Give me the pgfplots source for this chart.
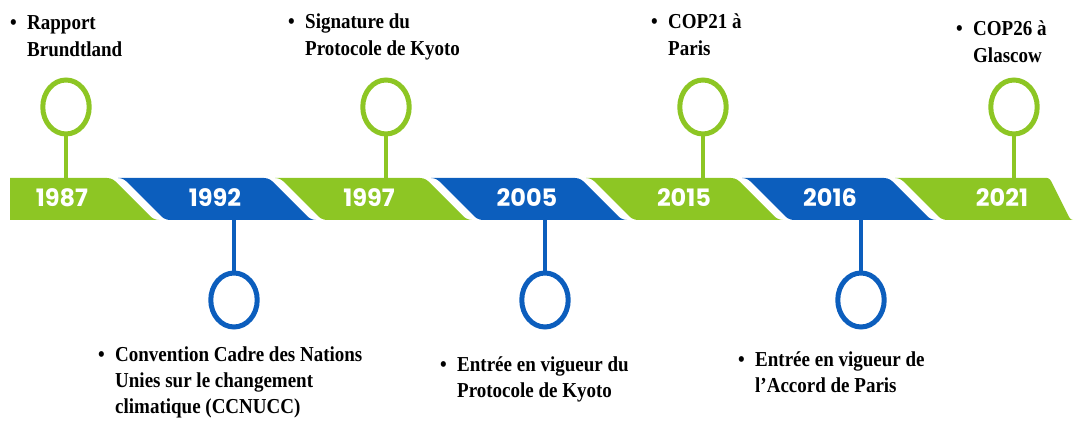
\documentclass[border=0pt]{standalone}
\usepackage{pgfplots}
\pgfplotsset{compat=1.18}
\usepackage{fontspec}
\setmainfont{Liberation Serif}
\newfontfamily\yearfont{Poppins}
\definecolor{grn}{RGB}{141,198,36}
\definecolor{blu}{RGB}{12,94,189}
\begin{document}
\begin{tikzpicture}
\begin{axis}[width=1080pt,height=423pt,scale only axis,
  xmin=0,xmax=1080,ymin=0,ymax=423,hide axis,clip=false]
\path (axis cs:0,0) rectangle (axis cs:1080,423);
% band segments (pixel x, y = 423 - pixel y)
\addplot[fill=grn,draw=none] coordinates {(10,203) (10,245) (107,245) (110,244.6) (113,243.4) (115.5,241.5) (150.5,206.5) (153,204.6) (156,203.4) (159,203)} -- cycle;
\addplot[fill=blu,draw=none] coordinates {(170,203) (167,203.4) (164,204.6) (161.5,206.5) (126.5,241.5) (124,243.4) (121,244.6) (118,245)
  (264,245) (267,244.6) (270,243.4) (272.5,241.5) (307.5,206.5) (310,204.6) (313,203.4) (316,203)} -- cycle;
\addplot[fill=grn,draw=none] coordinates {(327,203) (324,203.4) (321,204.6) (318.5,206.5) (283.5,241.5) (281,243.4) (278,244.6) (275,245)
  (420,245) (423,244.6) (426,243.4) (428.5,241.5) (463.5,206.5) (466,204.6) (469,203.4) (472,203)} -- cycle;
\addplot[fill=blu,draw=none] coordinates {(483,203) (480,203.4) (477,204.6) (474.5,206.5) (439.5,241.5) (437,243.4) (434,244.6) (431,245)
  (575,245) (578,244.6) (581,243.4) (583.5,241.5) (618.5,206.5) (621,204.6) (624,203.4) (627,203)} -- cycle;
\addplot[fill=grn,draw=none] coordinates {(638,203) (635,203.4) (632,204.6) (629.5,206.5) (594.5,241.5) (592,243.4) (589,244.6) (586,245)
  (731,245) (734,244.6) (737,243.4) (739.5,241.5) (774.5,206.5) (777,204.6) (780,203.4) (783,203)} -- cycle;
\addplot[fill=blu,draw=none] coordinates {(794,203) (791,203.4) (788,204.6) (785.5,206.5) (750.5,241.5) (748,243.4) (745,244.6) (742,245)
  (884,245) (887,244.6) (890,243.4) (892.5,241.5) (927.5,206.5) (930,204.6) (933,203.4) (936,203)} -- cycle;
\addplot[fill=grn,draw=none] coordinates {(947,203) (944,203.4) (941,204.6) (938.5,206.5) (903.5,241.5) (901,243.4) (898,244.6) (895,245)
  (1047,245) (1048.5,244.6) (1050,243.4) (1051.25,241.5) (1068.75,206.5) (1070,204.6) (1071.5,203.4) (1073,203)} -- cycle;
% stems
\addplot[grn,line width=4.5pt] coordinates {(66,288) (66,245)};
\addplot[grn,line width=4.5pt] coordinates {(386,288) (386,245)};
\addplot[grn,line width=4.5pt] coordinates {(703,288) (703,245)};
\addplot[grn,line width=4.5pt] coordinates {(1014,288) (1014,245)};
\addplot[blu,line width=4.5pt] coordinates {(234,203) (234,151)};
\addplot[blu,line width=4.5pt] coordinates {(545,203) (545,151)};
\addplot[blu,line width=4.5pt] coordinates {(861,203) (861,151)};
% pins
\addplot[only marks,mark=o,mark size=27pt,mark options={draw=grn,fill=white,line width=5pt,xscale=0.86}] coordinates {(66,316) (386,316) (703,316) (1014,316)};
\addplot[only marks,mark=o,mark size=27pt,mark options={draw=blu,fill=white,line width=5pt,xscale=0.86}] coordinates {(234,123) (545,123) (861,123)};
% years
\begin{scope}[every node/.style={anchor=base,text=white,font=\yearfont\bfseries\fontsize{24}{24}\selectfont}]
\node at (axis cs:62,216) {1987};
\node at (axis cs:215,216) {1992};
\node at (axis cs:369,216) {1997};
\node at (axis cs:527,216) {2005};
\node at (axis cs:684,216) {2015};
\node at (axis cs:830,216) {2016};
\node at (axis cs:1002,216) {2021};
\end{scope}
% labels
\begin{scope}[every node/.style={anchor=base west,inner sep=0pt,yscale=1.12,font=\bfseries\fontsize{19}{19}\selectfont}]
\node at (axis cs:10,393) {•};
\node at (axis cs:27,393) {Rapport};
\node at (axis cs:27,366) {Brundtland};
\node at (axis cs:288,394) {•};
\node at (axis cs:305,394) {Signature du};
\node at (axis cs:305,367) {Protocole de Kyoto};
\node at (axis cs:651,394) {•};
\node at (axis cs:668,394) {COP21 à};
\node at (axis cs:668,367) {Paris};
\node at (axis cs:956,387) {•};
\node at (axis cs:973,387) {COP26 à};
\node at (axis cs:973,360) {Glascow};
\node at (axis cs:98,61) {•};
\node at (axis cs:115,61) {Convention Cadre des Nations};
\node at (axis cs:115,35) {Unies sur le changement};
\node at (axis cs:115,9) {climatique (CCNUCC)};
\node at (axis cs:440,51) {•};
\node at (axis cs:457,51) {Entrée en vigueur du};
\node at (axis cs:457,25) {Protocole de Kyoto};
\node at (axis cs:738,56) {•};
\node at (axis cs:755,56) {Entrée en vigueur de};
\node at (axis cs:755,30) {l’Accord de Paris};
\end{scope}
\end{axis}
\end{tikzpicture}
\end{document}
